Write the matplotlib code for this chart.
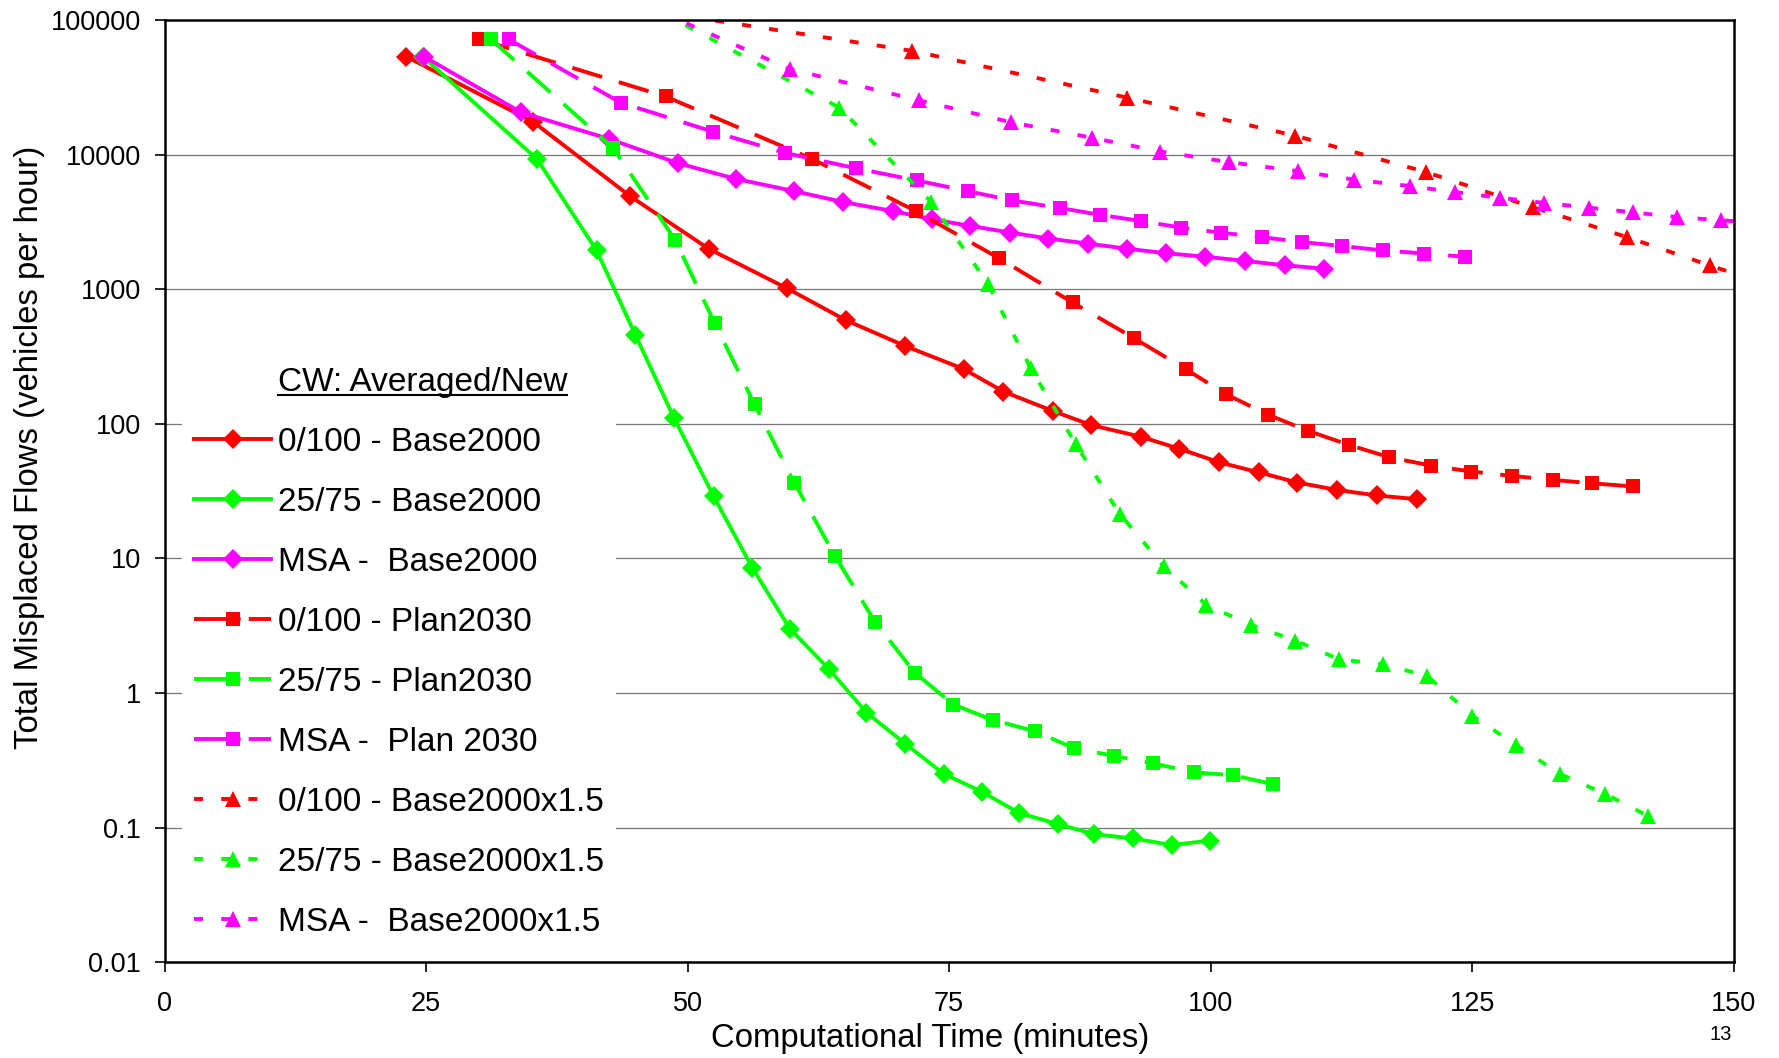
import matplotlib
matplotlib.use("Agg")
import matplotlib.pyplot as plt
import matplotlib.ticker as mticker
from matplotlib.lines import Line2D

plt.rcParams['font.family'] = ['Liberation Sans', 'DejaVu Sans']

# --- data (x = minutes, y = misplaced flows) ---
red_base_x = [23.1, 35.2, 44.5, 52.0, 59.5, 65.1, 70.8, 76.4, 80.2, 84.9, 88.6, 93.3, 97.0, 100.8, 104.6, 108.3, 112.1, 115.9, 119.7]
red_base_y = [53800, 17700, 4940, 2010, 1020, 592, 380, 256, 174, 125, 98, 80.5, 65.5, 51.9, 43.7, 36.7, 32.3, 29.4, 27.6]

green_base_x = [24.7, 35.6, 41.3, 45.0, 48.7, 52.5, 56.2, 59.8, 63.5, 67.1, 70.8, 74.5, 78.1, 81.7, 85.4, 88.9, 92.6, 96.3, 99.9]
green_base_y = [53800, 9330, 1950, 461, 111, 28.9, 8.5, 2.99, 1.51, 0.715, 0.42, 0.25, 0.185, 0.128, 0.106, 0.089, 0.083, 0.074, 0.080]

msa_base_x = [24.8, 34.1, 42.5, 49.1, 54.6, 60.2, 64.9, 69.6, 73.4, 77.0, 80.8, 84.5, 88.3, 92.0, 95.7, 99.5, 103.3, 107.1, 110.8]
msa_base_y = [53800, 20700, 13150, 8670, 6640, 5380, 4460, 3830, 3320, 2970, 2650, 2390, 2190, 2010, 1860, 1750, 1630, 1510, 1430]

red_plan_x = [30.1, 47.9, 61.9, 71.8, 79.8, 86.8, 92.7, 97.6, 101.5, 105.5, 109.3, 113.2, 117.1, 121.1, 124.9, 128.8, 132.7, 136.5, 140.4]
red_plan_y = [72300, 27200, 9340, 3830, 1700, 800, 433, 256, 166, 117, 89, 70, 56.5, 49, 44.3, 41.1, 38.4, 36.2, 34.3]

green_plan_x = [31.2, 42.9, 48.8, 52.6, 56.4, 60.2, 64.1, 67.9, 71.7, 75.4, 79.2, 83.2, 86.9, 90.8, 94.5, 98.4, 102.1, 106.0]
green_plan_y = [72300, 11200, 2340, 560, 140, 36.6, 10.4, 3.4, 1.42, 0.82, 0.63, 0.52, 0.39, 0.34, 0.30, 0.257, 0.245, 0.21]

msa_plan_x = [32.9, 43.6, 52.4, 59.3, 66.1, 71.9, 76.8, 81.0, 85.6, 89.4, 93.3, 97.2, 101.0, 104.9, 108.7, 112.6, 116.5, 120.4, 124.3]
msa_plan_y = [72300, 24500, 14900, 10350, 7960, 6460, 5380, 4590, 4030, 3590, 3230, 2880, 2640, 2450, 2250, 2100, 1950, 1850, 1750]

red_x15_x = [47.5, 71.5, 92.0, 108.1, 120.6, 130.8, 139.8, 147.7, 155.5]
red_x15_y = [115000, 59300, 26700, 13900, 7450, 4090, 2450, 1510, 950]

green_x15_x = [47.5, 64.5, 73.3, 78.7, 82.8, 87.1, 91.3, 95.5, 99.6, 103.9, 108.1, 112.3, 116.5, 120.7, 125.0, 129.2, 133.4, 137.7, 141.8]
green_x15_y = [115000, 22500, 4460, 1107, 259, 71, 21.5, 8.8, 4.5, 3.2, 2.45, 1.78, 1.63, 1.34, 0.68, 0.41, 0.25, 0.178, 0.122]

msa_x15_x = [47.5, 59.8, 72.1, 80.9, 88.7, 95.2, 101.8, 108.4, 113.7, 119.1, 123.4, 127.7, 131.9, 136.2, 140.4, 144.6, 148.8, 153.0]
msa_x15_y = [115000, 43400, 25500, 17500, 13400, 10600, 8830, 7570, 6560, 5860, 5290, 4800, 4400, 4050, 3740, 3450, 3270, 3100]

labels = ["0/100 - Base2000", "25/75 - Base2000", "MSA -  Base2000",
          "0/100 - Plan2030", "25/75 - Plan2030", "MSA -  Plan 2030",
          "0/100 - Base2000x1.5", "25/75 - Base2000x1.5", "MSA -  Base2000x1.5"]

x_ticks = [0, 25, 50, 75, 100, 125, 150]
y_ticks = [0.01, 0.1, 1, 10, 100, 1000, 10000, 100000]

RED, GREEN, MAGENTA = '#FF0000', '#00FF00', '#FF00FF'
LW = 2.8
LONG_DASH = (8, 4.5)
SHORT_DASH = (2.3, 4.7)

fig = plt.figure(figsize=(17.79, 10.58), dpi=100)
ax = fig.add_axes([0.0925, 0.0907, 0.882, 0.89])

series = [
    (red_base_x, red_base_y, RED, 'D', 10.5, None),
    (green_base_x, green_base_y, GREEN, 'D', 10.5, None),
    (msa_base_x, msa_base_y, MAGENTA, 'D', 10.5, None),
    (red_plan_x, red_plan_y, RED, 's', 10, LONG_DASH),
    (green_plan_x, green_plan_y, GREEN, 's', 10, LONG_DASH),
    (msa_plan_x, msa_plan_y, MAGENTA, 's', 10, LONG_DASH),
    (red_x15_x, red_x15_y, RED, '^', 12, SHORT_DASH),
    (green_x15_x, green_x15_y, GREEN, '^', 12, SHORT_DASH),
    (msa_x15_x, msa_x15_y, MAGENTA, '^', 12, SHORT_DASH),
]

# legend proxies: first one is the heading row with no symbol
handles = [Line2D([], [], linestyle='none', marker=None)]
for (xs, ys, col, mk, ms, dash), lab in zip(series, labels):
    ln, = ax.plot(xs, ys, color=col, lw=LW, marker=mk, markersize=ms,
                  markeredgewidth=0, markerfacecolor=col, label=lab)
    proxy = Line2D([], [], color=col, lw=LW, marker=mk, markersize=ms * 0.95,
                   markeredgewidth=0, markerfacecolor=col)
    if dash is not None:
        ln.set_dashes(dash)
        proxy.set_dashes((12, 2.1) if dash == LONG_DASH else dash)
    handles.append(proxy)

ax.set_yscale('log')
ax.set_ylim(0.01, 100000)
ax.set_xlim(0, 150)
ax.set_xticks(x_ticks)
ax.set_yticks(y_ticks)
ax.yaxis.set_major_formatter(mticker.FuncFormatter(lambda v, _: f'{v:g}'))
ax.yaxis.set_minor_locator(mticker.NullLocator())
ax.tick_params(axis='both', direction='out', length=7, width=1.2, labelsize=19.5)
ax.tick_params(axis='x', pad=14)
ax.tick_params(axis='y', pad=10)
ax.grid(axis='y', color='#777777', lw=0.9)
ax.set_axisbelow(True)
for sp in ax.spines.values():
    sp.set_linewidth(1.8)
    sp.set_color('black')

leg = ax.legend(handles=handles, labels=["CW: Averaged/New"] + labels,
                loc='lower left', bbox_to_anchor=(0.0112, 0.0127),
                borderaxespad=0, fontsize=24, frameon=True, fancybox=False,
                edgecolor='none', facecolor='white', framealpha=1,
                handlelength=2.3, handletextpad=0.2, labelspacing=0.87,
                borderpad=0.37, numpoints=1)

fig.text(930 / 1779, 1 - 1038 / 1058, "Computational Time (minutes)",
         ha='center', va='center', fontsize=23.7)
fig.text(30 / 1779, 1 - 447 / 1058, "Total Misplaced Flows (vehicles per hour)",
         ha='center', va='center', rotation=90, fontsize=23.7)
fig.text(1721 / 1779, 1 - 1034 / 1058, "13", ha='center', va='center', fontsize=14.5)

# underline the legend heading
fig.canvas.draw()
bb = leg.get_texts()[0].get_window_extent()
y_ul = (bb.y0 + 2.6) / fig.bbox.height
fig.add_artist(Line2D([bb.x0 / fig.bbox.width, bb.x1 / fig.bbox.width], [y_ul, y_ul],
                      color='black', lw=1.5, transform=fig.transFigure))

fig.savefig("out.png", dpi=100)
